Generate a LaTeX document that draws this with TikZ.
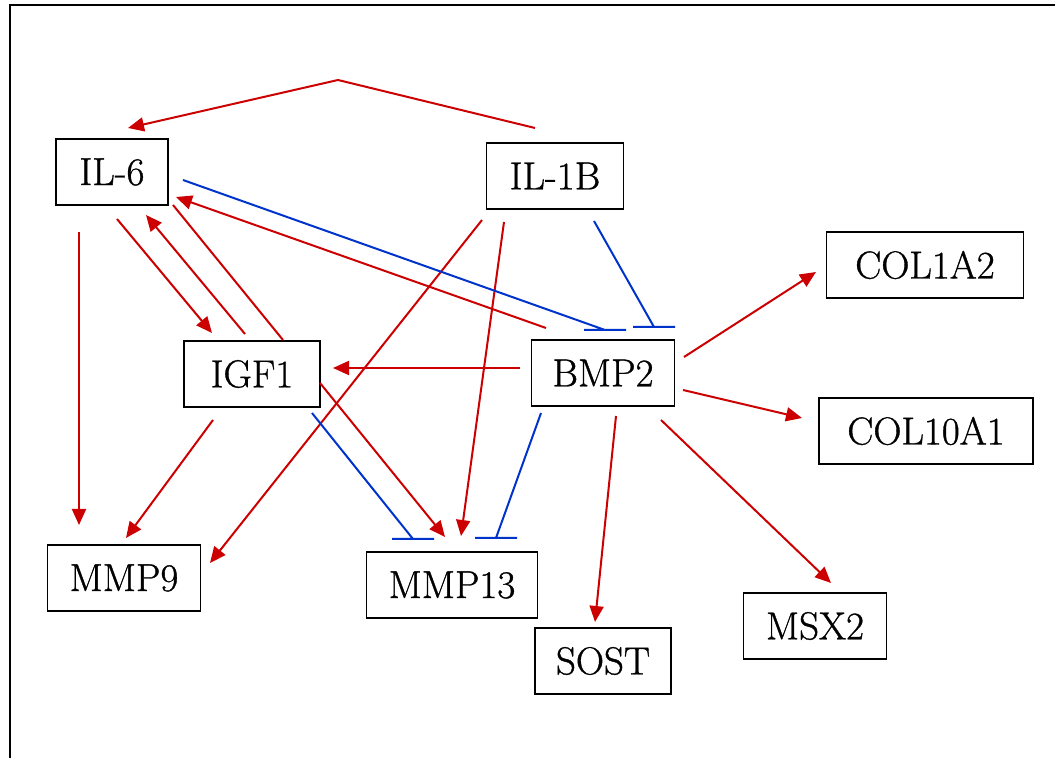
\documentclass[tikz,border=0pt]{standalone}
\usepackage{fontspec}
\usepackage{tikz}
\usetikzlibrary{calc,arrows.meta,positioning}

\newfontfamily\genefont{Latin Modern Roman}[FakeBold=0.9]

\definecolor{actred}{RGB}{204,0,0}
\definecolor{inhblue}{RGB}{0,51,204}

\tikzset{
  gene/.style={draw=black,line width=0.8pt,minimum height=33pt,inner sep=2pt,
    font=\genefont\fontsize{19.5}{23}\selectfont},
  act/.style={draw=actred,line width=1pt,-{Triangle[length=8pt,width=7pt]}},
  inh/.style={draw=inhblue,line width=1pt},
  plain/.style={draw=actred,line width=1pt}
}

\newcommand{\inhibit}[2]{\draw[inh] #1 -- #2 +(-21,0) -- +(21,0);}

\begin{document}
\begin{tikzpicture}[x=0.5pt,y=-0.5pt]

\useasboundingbox (0,0) rectangle (1055,758);
\draw[line width=1pt] (10,758) -- (10,5) -- (1055,5);

\def\genes{il6/{IL-6}/112/172/56,il1b/{IL-1B}/555/176/68.5,col1a2/{COL1A2}/925/265/98.5,
  igf1/{IGF1}/252/374/68,bmp2/{BMP2}/603/373/71.5,col10a1/{COL10A1}/926/431/107,
  mmp9/{MMP9}/124/578/76.5,mmp13/{MMP13}/452/585/85.5,sost/{SOST}/603/661/68,
  msx2/{MSX2}/815/626/71.5}
\foreach \n / \t / \x / \y / \w in \genes
  \node[gene,minimum width=\w pt] (\n) at (\x,\y) {\t};

\coordinate (top) at (338,80);

\draw[act] ($(il1b)+(-20,-48)$) -- (top) -- ($(il6)+(16,-44)$);
\draw[act] ($(bmp2)+(-57,-45)$) -- ($(il6)+(64,25)$);
\draw[act] ($(il6)+(5,47)$) -- ($(igf1)+(-40,-41)$);
\draw[act] ($(igf1)+(-7,-40)$) -- ($(il6)+(34,43)$);
\draw[plain] ($(igf1)+(31,-34)$) -- ($(il6)+(61,33)$);
\draw[act] ($(il6)+(-33,60)$) -- ($(mmp9)+(-45,-53)$);
\draw[act] ($(igf1)+(-39,46)$) -- ($(mmp9)+(2,-40)$);
\draw[act] ($(il1b)+(-73,44)$) -- ($(mmp9)+(86,-15)$);
\draw[act] ($(il1b)+(-51,46)$) -- ($(mmp13)+(9,-49)$);
\draw[act] ($(bmp2)+(-83,-5)$) -- ($(igf1)+(81,-6)$);
\draw[act] ($(igf1)+(68,9)$) -- ($(mmp13)+(-7,-48)$);
\draw[act] ($(bmp2)+(13,43)$) -- ($(sost)+(-8,-39)$);
\draw[act] ($(bmp2)+(58,47)$) -- ($(msx2)+(16,-43)$);
\draw[act] ($(bmp2)+(81,-16)$) -- ($(col1a2)+(-109,7)$);
\draw[act] ($(bmp2)+(80,17)$) -- ($(col10a1)+(-124,-13)$);

\inhibit{($(il6)+(71,8)$)}{($(bmp2)+(2,-43)$)}
\inhibit{($(il1b)+(39,45)$)}{($(bmp2)+(51,-46)$)}
\inhibit{($(igf1)+(60,39)$)}{($(mmp13)+(-39,-46)$)}
\inhibit{($(bmp2)+(-62,40)$)}{($(mmp13)+(44,-47)$)}

\end{tikzpicture}
\end{document}
